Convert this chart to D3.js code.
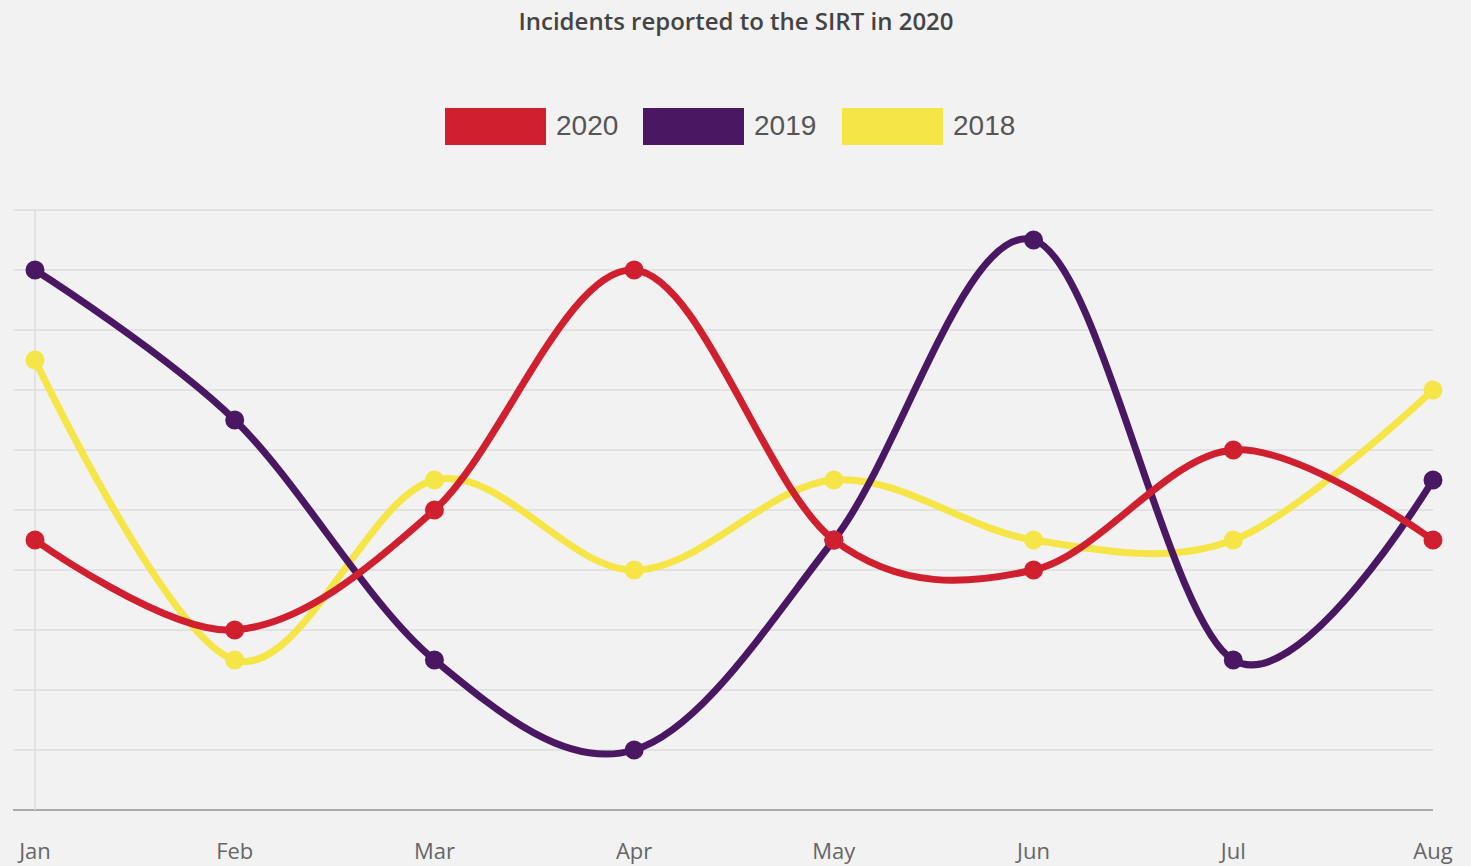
<!DOCTYPE html>
<html>
<head>
<meta charset="utf-8">
<script src="https://cdn.jsdelivr.net/npm/d3@7"></script>
<style>
  body { margin: 0; background: #f2f2f2; }
  svg { display: block; }
</style>
</head>
<body>
<script>
// data
const months = ["Jan", "Feb", "Mar", "Apr", "May", "Jun", "Jul", "Aug"];
const values2020 = [4.5, 3, 5, 9, 4.5, 4, 6, 4.5];
const values2019 = [9, 6.5, 2.5, 1, 4.5, 9.5, 2.5, 5.5];
const values2018 = [7.5, 2.5, 5.5, 4, 5.5, 4.5, 4.5, 7];
const seriesNames = ["2020", "2019", "2018"];
const seriesColors = ["#d01f2e", "#4a1863", "#f5e547"];
const yTicks = d3.range(0, 11);

const width = 1471, height = 866;
const svg = d3.select("body").append("svg")
  .attr("width", width).attr("height", height);

svg.append("rect").attr("width", width).attr("height", height).attr("fill", "#f2f2f2");

const x = d3.scalePoint().domain(months).range([35, 1433]);
const y = d3.scaleLinear().domain([0, 10]).range([810, 210]);

//grid lines
svg.append("g").selectAll("line")
  .data(yTicks)
  .enter().append("line")
  .attr("x1", 13).attr("x2", 1433)
  .attr("y1", d => y(d)).attr("y2", d => y(d))
  .attr("stroke", d => d === 0 ? "#aaa" : "#dcdcdc")
  .attr("stroke-width", d => d === 0 ? 2 : 1.5);

//vertical axis line
svg.append("line")
  .attr("x1", x("Jan")).attr("x2", x("Jan"))
  .attr("y1", y(10)).attr("y2", y(0))
  .attr("stroke", "#dcdcdc").attr("stroke-width", 1.5);

//x labels
svg.append("g").selectAll("text")
  .data(months)
  .enter().append("text")
  .attr("x", d => x(d))
  .attr("y", 859)
  .attr("text-anchor", "middle")
  .attr("font-family", "'Open Sans', sans-serif")
  .attr("font-size", 22)
  .attr("fill", "#666")
  .text(d => d);

//lines and points
const series = [values2018, values2019, values2020];
const order = [2, 1, 0];
const line = d3.line()
  .x((d, i) => x(months[i]))
  .y(d => y(d))
  .curve(d3.curveCardinal.tension(0));

series.forEach((vals, k) => {
  const color = seriesColors[order[k]];
  svg.append("path")
    .attr("d", line(vals))
    .attr("fill", "none")
    .attr("stroke", color)
    .attr("stroke-width", 7);
  svg.append("g").selectAll("circle")
    .data(vals)
    .enter().append("circle")
    .attr("cx", (d, i) => x(months[i]))
    .attr("cy", d => y(d))
    .attr("r", 8)
    .attr("fill", color)
    .attr("stroke", color)
    .attr("stroke-width", 3);
});

//title
svg.append("text")
  .attr("x", 736).attr("y", 30)
  .attr("text-anchor", "middle")
  .attr("font-family", "'Open Sans', sans-serif")
  .attr("font-weight", 600)
  .attr("font-size", 24)
  .attr("fill", "#444")
  .text("Incidents reported to the SIRT in 2020");

//legend
const legendX = [445, 643, 842];
seriesNames.forEach((name, i) => {
  svg.append("rect")
    .attr("x", legendX[i]).attr("y", 108)
    .attr("width", 101).attr("height", 37)
    .attr("fill", seriesColors[i]);
  svg.append("text")
    .attr("x", legendX[i] + 111).attr("y", 135)
    .attr("font-family", "'Liberation Sans', Arial, sans-serif")
    .attr("font-size", 28)
    .attr("fill", "#555")
    .text(name);
});
</script>
</body>
</html>
